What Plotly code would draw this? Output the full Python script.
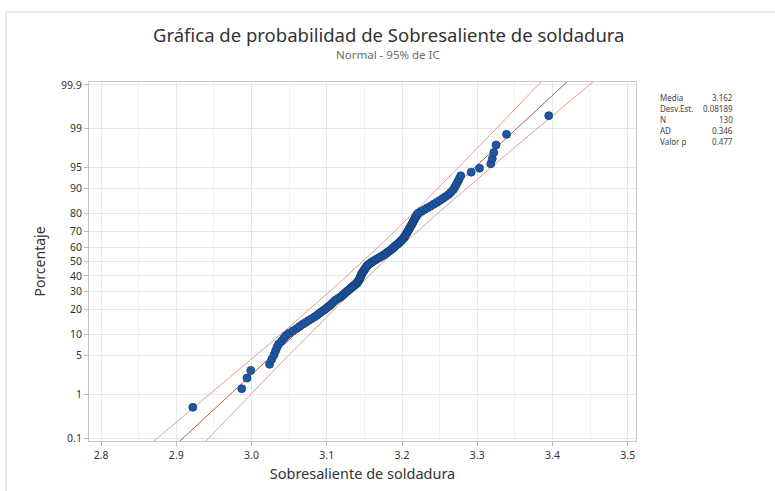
import plotly.graph_objects as go
from statistics import NormalDist

# ---------------- data ----------------
title_text = "Gráfica de probabilidad de Sobresaliente de soldadura"
subtitle_text = "Normal - 95% de IC"
x_label = "Sobresaliente de soldadura"
y_label = "Porcentaje"

weld_values = [
    2.922, 2.987, 2.994, 2.999, 3.024, 3.027, 3.030, 3.032, 3.034, 3.036,
    3.040, 3.043, 3.046, 3.050, 3.055, 3.060, 3.064, 3.068, 3.072, 3.076,
    3.080, 3.084, 3.087, 3.090, 3.093, 3.096, 3.099, 3.101, 3.104, 3.106,
    3.108, 3.110, 3.112, 3.115, 3.118, 3.120, 3.122, 3.124, 3.126, 3.128,
    3.130, 3.132, 3.134, 3.136, 3.138, 3.140, 3.141, 3.142, 3.143, 3.144,
    3.144, 3.145, 3.146, 3.146, 3.147, 3.148, 3.149, 3.150, 3.151, 3.152,
    3.153, 3.154, 3.156, 3.158, 3.160, 3.162, 3.165, 3.167, 3.170, 3.172,
    3.175, 3.177, 3.179, 3.181, 3.183, 3.185, 3.187, 3.189, 3.190, 3.192,
    3.194, 3.196, 3.197, 3.199, 3.200, 3.202, 3.203, 3.204, 3.205, 3.206,
    3.207, 3.208, 3.209, 3.210, 3.211, 3.212, 3.213, 3.214, 3.215, 3.216,
    3.217, 3.218, 3.219, 3.220, 3.222, 3.226, 3.230, 3.234, 3.238, 3.242,
    3.246, 3.250, 3.254, 3.258, 3.262, 3.265, 3.268, 3.270, 3.272, 3.274,
    3.276, 3.278, 3.292, 3.303, 3.318, 3.320, 3.322, 3.325, 3.339, 3.395,
]

fit_mean = 3.162
fit_std = 0.08189
n_obs = 130

stat_names = ["Media", "Desv.Est.", "N", "AD", "Valor p"]
stat_values = ["3.162", "0.08189", "130", "0.346", "0.477"]

y_tick_pct = [0.1, 1, 5, 10, 20, 30, 40, 50, 60, 70, 80, 90, 95, 99, 99.9]
y_tick_text = ["0.1", "1", "5", "10", "20", "30", "40", "50", "60", "70", "80", "90", "95", "99", "99.9"]
x_tick_vals = [2.8, 2.9, 3.0, 3.1, 3.2, 3.3, 3.4, 3.5]
x_tick_text = ["2.8", "2.9", "3.0", "3.1", "3.2", "3.3", "3.4", "3.5"]

# ---------------- probability scale ----------------
nd = NormalDist()
srt = sorted(weld_values)
nn = len(srt)
probit_y = [nd.inv_cdf((i + 1 - 0.3) / (nn + 0.4)) for i in range(nn)]
pct_y = [100 * (i + 1 - 0.3) / (nn + 0.4) for i in range(nn)]
y_tick_z = [nd.inv_cdf(p / 100) for p in y_tick_pct]

z_line = [-3.6 + 0.05 * k for k in range(145)]
fit_x = [fit_mean + fit_std * z for z in z_line]
half = [1.96 * fit_std * ((1 + z * z / 2) / n_obs) ** 0.5 for z in z_line]
lo_x = [f - h for f, h in zip(fit_x, half)]
hi_x = [f + h for f, h in zip(fit_x, half)]

# ---------------- figure ----------------
FONT = "Noto Sans"
W, H = 775, 491
L, R, T, B = 89, 139, 82, 50
PW, PH = W - L - R, H - T - B


def pxx(x):
    return (x - L) / PW


def pxy(y):
    return (H - B - y) / PH


fig = go.Figure()

ci_color = "#DDA08C"
fit_color = "#B85A4E"

fig.add_trace(go.Scatter(x=lo_x, y=z_line, mode="lines",
                         line=dict(color=ci_color, width=1), hoverinfo="skip"))
fig.add_trace(go.Scatter(x=hi_x, y=z_line, mode="lines",
                         line=dict(color=ci_color, width=1), hoverinfo="skip"))
fig.add_trace(go.Scatter(x=fit_x, y=z_line, mode="lines",
                         line=dict(color=fit_color, width=1), hoverinfo="skip"))
fig.add_trace(go.Scatter(
    x=srt, y=probit_y, mode="markers",
    marker=dict(size=8, color="#1F57A3", line=dict(color="#173F78", width=0.8)),
    customdata=pct_y,
    hovertemplate="%{x:.3f}<br>%{customdata:.1f}%<extra></extra>",
))

annotations = [
    dict(text=title_text, x=pxx(388), y=pxy(35), xref="paper", yref="paper",
         showarrow=False, xanchor="center", yanchor="middle",
         font=dict(family=FONT, size=18.5, color="#333333")),
    dict(text=subtitle_text, x=pxx(388), y=pxy(54), xref="paper", yref="paper",
         showarrow=False, xanchor="center", yanchor="middle",
         font=dict(family=FONT, size=11.5, color="#6A6A6A")),
]
row_y = [97, 108, 119, 130, 141]
for name, val, yy in zip(stat_names, stat_values, row_y):
    annotations.append(dict(text=name, x=pxx(658), y=pxy(yy), xref="paper", yref="paper",
                            showarrow=False, xanchor="left", yanchor="middle",
                            font=dict(family=FONT, size=8, color="#444444")))
    annotations.append(dict(text=val, x=pxx(735), y=pxy(yy), xref="paper", yref="paper",
                            showarrow=False, xanchor="right", yanchor="middle",
                            font=dict(family=FONT, size=8, color="#444444")))

shapes = [
    dict(type="rect", xref="paper", yref="paper",
         x0=pxx(6), x1=pxx(800), y0=pxy(520), y1=pxy(12),
         line=dict(color="#D8D8D8", width=1), fillcolor="rgba(0,0,0,0)", layer="below"),
]

fig.update_layout(
    width=W, height=H,
    margin=dict(l=L, r=R, t=T, b=B),
    paper_bgcolor="white", plot_bgcolor="white",
    showlegend=False,
    annotations=annotations,
    shapes=shapes,
    font=dict(family=FONT, color="#333333"),
)

fig.update_xaxes(
    range=[2.784, 3.511],
    tickvals=x_tick_vals, ticktext=x_tick_text,
    tickfont=dict(family=FONT, size=10.5, color="#333333"),
    ticks="outside", ticklen=4, tickcolor="#BBBBBB",
    showgrid=True, gridcolor="#E8E8E8", gridwidth=1,
    minor=dict(dtick=0.05, tick0=2.8, showgrid=True, gridcolor="#F2F2F2", ticks=""),
    showline=True, linecolor="#C8C8C8", linewidth=1, mirror=True,
    zeroline=False,
    title=dict(text=x_label, font=dict(family=FONT, size=14.5, color="#333333"), standoff=8),
)
fig.update_yaxes(
    range=[-3.14, 3.14],
    tickvals=y_tick_z, ticktext=y_tick_text,
    tickfont=dict(family=FONT, size=10.5, color="#333333"),
    ticks="outside", ticklen=4, tickcolor="#BBBBBB",
    showgrid=True, gridcolor="#E8E8E8", gridwidth=1,
    showline=True, linecolor="#C8C8C8", linewidth=1, mirror=True,
    zeroline=False,
    title=dict(text=y_label, font=dict(family=FONT, size=14, color="#333333"), standoff=12),
)

fig.write_html("out.html")
